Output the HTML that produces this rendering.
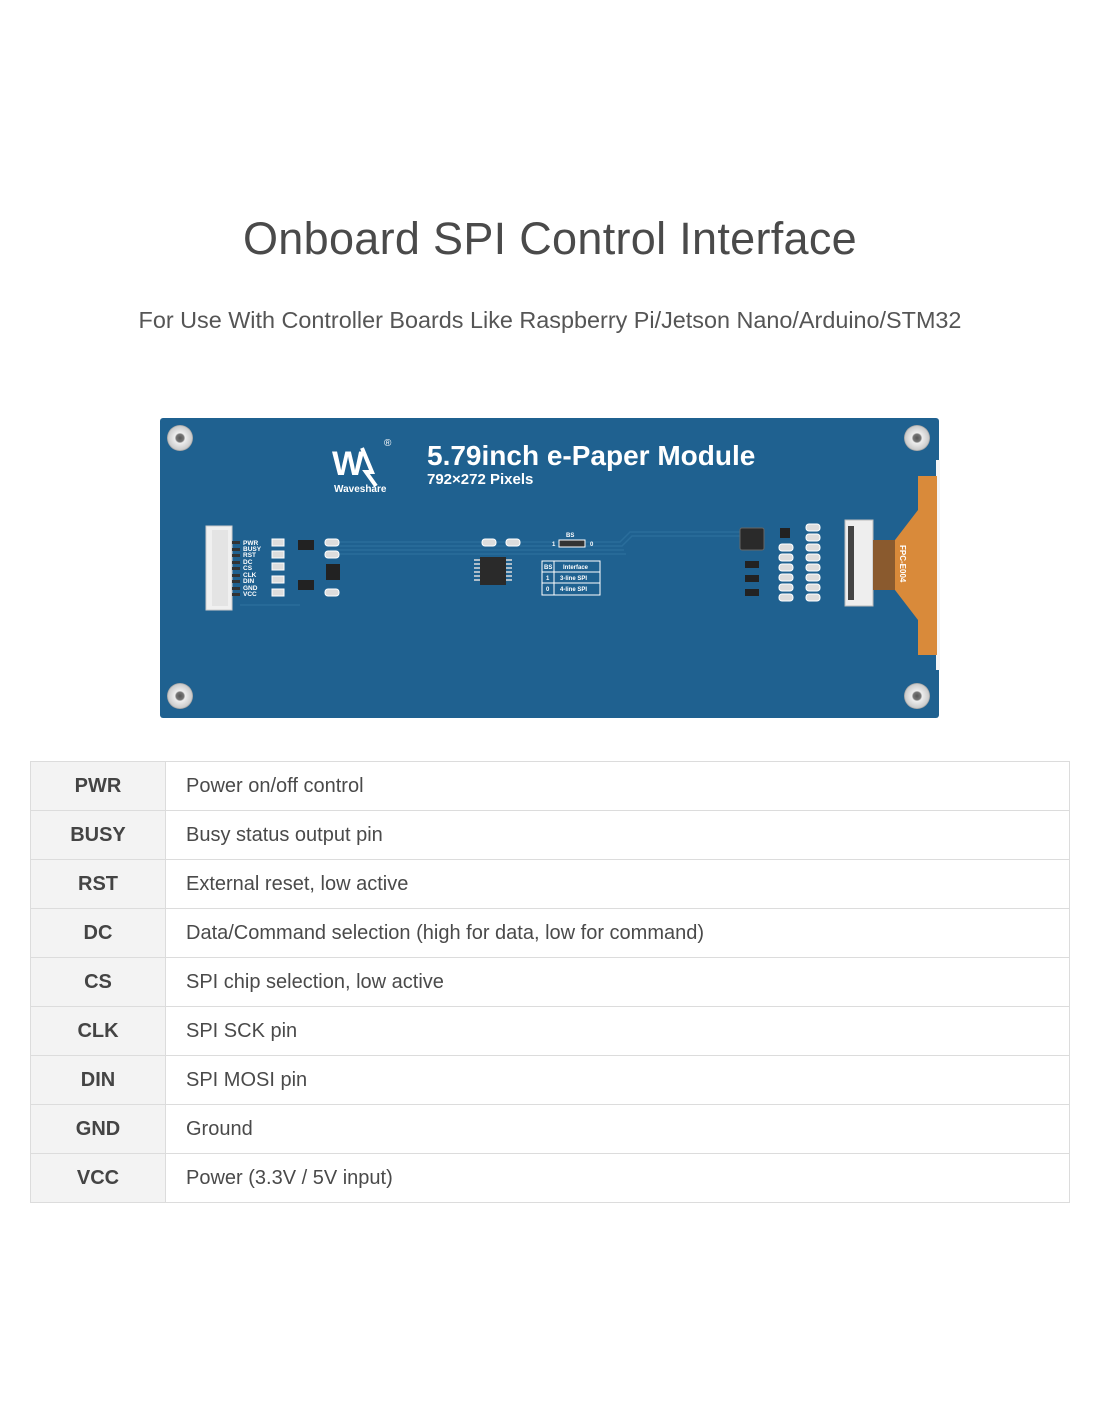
<!DOCTYPE html>
<html><head><meta charset="utf-8"><style>
html,body{margin:0;padding:0;background:#fff;}
body{width:1100px;height:1422px;position:relative;font-family:"Liberation Sans","DejaVu Sans",sans-serif;overflow:hidden;}
.t1{position:absolute;left:0;width:1100px;top:213px;text-align:center;font-size:45px;color:#4a4a4a;letter-spacing:0.3px;}
.t2{position:absolute;left:0;width:1100px;top:307px;text-align:center;font-size:23.4px;color:#555;}
table{position:absolute;left:30px;top:761px;width:1040px;border-collapse:collapse;}
td{border:1px solid #dcdcdc;height:48px;padding:0;font-size:20px;color:#4a4a4a;}
td.k{width:134px;background:#f3f3f3;text-align:center;font-weight:bold;color:#444;}
td.v{padding-left:20px;}
</style></head><body>
<div class="t1">Onboard SPI Control Interface</div>
<div class="t2">For Use With Controller Boards Like Raspberry Pi/Jetson Nano/Arduino/STM32</div>
<svg style="position:absolute;left:0;top:0" width="1100" height="760">
<defs><radialGradient id="h" cx="50%" cy="50%" r="50%"><stop offset="0" stop-color="#555"/><stop offset="0.3" stop-color="#777"/><stop offset="0.4" stop-color="#eee"/><stop offset="0.9" stop-color="#ccc"/><stop offset="1" stop-color="#999"/></radialGradient></defs>
<rect x="160" y="418" width="779" height="300" rx="3" fill="#1f6190"/>
<rect x="936" y="460" width="4" height="210" fill="#f4f4f4"/>
<circle cx="180" cy="438" r="13" fill="url(#h)"/><circle cx="917" cy="438" r="13" fill="url(#h)"/>
<circle cx="180" cy="696" r="13" fill="url(#h)"/><circle cx="917" cy="696" r="13" fill="url(#h)"/>
<text x="332" y="475" font-family="Liberation Sans" font-weight="bold" font-size="34" fill="#fff" letter-spacing="-3">W</text>
<path d="M362 448 L372 472 L366 472 L376 486" stroke="#fff" stroke-width="4" fill="none"/>
<text x="384" y="446" font-size="10" fill="#fff">®</text>
<text x="334" y="492" font-family="Liberation Sans" font-weight="bold" font-size="10" fill="#fff">Waveshare</text>
<text x="427" y="465" font-family="Liberation Sans" font-weight="bold" font-size="28" fill="#fff">5.79inch e-Paper Module</text>
<text x="427" y="484" font-family="Liberation Sans" font-weight="bold" font-size="15" fill="#fff">792×272 Pixels</text>
<g stroke="#2a6d9b" stroke-width="1.5" fill="none">
<path d="M330 542 H620 L630 532 H760"/><path d="M330 546 H622 L632 536 H760"/><path d="M330 550 H624"/><path d="M330 554 H626"/>
<path d="M240 605 H300"/>
</g>
<rect x="206" y="526" width="26" height="84" fill="#f0f0f0" stroke="#ccc"/>
<rect x="212" y="530" width="16" height="76" fill="#e4e4e4"/>
<g fill="#333"><rect x="232" y="541" width="8" height="3"/><rect x="232" y="548" width="8" height="3"/><rect x="232" y="554" width="8" height="3"/><rect x="232" y="561" width="8" height="3"/><rect x="232" y="567" width="8" height="3"/><rect x="232" y="574" width="8" height="3"/><rect x="232" y="580" width="8" height="3"/><rect x="232" y="587" width="8" height="3"/><rect x="232" y="593" width="8" height="3"/></g>
<g font-family="Liberation Sans" font-weight="bold" font-size="6.5" fill="#fff">
<text x="243" y="545">PWR</text><text x="243" y="551">BUSY</text><text x="243" y="557">RST</text><text x="243" y="564">DC</text><text x="243" y="570">CS</text><text x="243" y="577">CLK</text><text x="243" y="583">DIN</text><text x="243" y="590">GND</text><text x="243" y="596">VCC</text></g>
<g fill="#ddd" stroke="#fff" stroke-width="1"><rect x="272" y="539" width="12" height="7"/><rect x="272" y="551" width="12" height="7"/><rect x="272" y="563" width="12" height="7"/><rect x="272" y="576" width="12" height="7"/><rect x="272" y="589" width="12" height="7"/>
<rect x="325" y="539" width="14" height="7" rx="3"/><rect x="325" y="551" width="14" height="7" rx="3"/><rect x="325" y="589" width="14" height="7" rx="3"/></g>
<g fill="#222"><rect x="298" y="540" width="16" height="10"/><rect x="298" y="580" width="16" height="10"/><rect x="326" y="564" width="14" height="16"/></g>
<g fill="#ddd" stroke="#fff"><rect x="482" y="539" width="14" height="7" rx="3"/><rect x="506" y="539" width="14" height="7" rx="3"/></g>
<g stroke="#ddd" stroke-width="1.5"><path d="M474 560H512M474 564H512M474 568H512M474 572H512M474 576H512M474 580H512"/></g>
<rect x="480" y="557" width="26" height="28" fill="#2a2a2a"/>
<text x="566" y="537" font-family="Liberation Sans" font-weight="bold" font-size="6" fill="#fff">BS</text>
<text x="552" y="546" font-family="Liberation Sans" font-weight="bold" font-size="6" fill="#fff">1</text>
<rect x="559" y="540" width="26" height="7" fill="#333" stroke="#fff"/>
<text x="590" y="546" font-family="Liberation Sans" font-weight="bold" font-size="6" fill="#fff">0</text>
<g stroke="#fff" fill="none" stroke-width="1"><rect x="542" y="561" width="58" height="34"/><path d="M542 572H600M542 583H600M554 561V595"/></g>
<g font-family="Liberation Sans" font-weight="bold" font-size="6" fill="#fff"><text x="544" y="569">BS</text><text x="563" y="569">Interface</text><text x="546" y="580">1</text><text x="560" y="580">3-line SPI</text><text x="546" y="591">0</text><text x="560" y="591">4-line SPI</text></g>
<rect x="740" y="528" width="24" height="22" rx="2" fill="#2a2a2a" stroke="#666"/>
<g fill="#222"><rect x="745" y="561" width="14" height="7"/><rect x="745" y="575" width="14" height="7"/><rect x="745" y="589" width="14" height="7"/><rect x="780" y="528" width="10" height="10"/></g>
<g fill="#ddd" stroke="#fff"><rect x="779" y="544" width="14" height="7" rx="3"/><rect x="779" y="554" width="14" height="7" rx="3"/><rect x="779" y="564" width="14" height="7" rx="3"/><rect x="779" y="574" width="14" height="7" rx="3"/><rect x="779" y="584" width="14" height="7" rx="3"/><rect x="779" y="594" width="14" height="7" rx="3"/>
<rect x="806" y="524" width="14" height="7" rx="3"/><rect x="806" y="534" width="14" height="7" rx="3"/><rect x="806" y="544" width="14" height="7" rx="3"/><rect x="806" y="554" width="14" height="7" rx="3"/><rect x="806" y="564" width="14" height="7" rx="3"/><rect x="806" y="574" width="14" height="7" rx="3"/><rect x="806" y="584" width="14" height="7" rx="3"/><rect x="806" y="594" width="14" height="7" rx="3"/></g>
<rect x="845" y="520" width="28" height="86" fill="#eee" stroke="#bbb"/>
<rect x="848" y="526" width="6" height="74" fill="#444"/>
<path d="M873 540 H895 L918 510 V476 H937 V655 H918 V620 L895 590 H873 Z" fill="#d98a3a"/>
<path d="M873 540 H895 V590 H873 Z" fill="#8a5a2e"/>
<text transform="translate(900,545) rotate(90)" font-family="Liberation Sans" font-weight="bold" font-size="8" fill="#fff">FPC-E004</text>
</svg>
<table>
<tr><td class="k">PWR</td><td class="v">Power on/off control</td></tr>
<tr><td class="k">BUSY</td><td class="v">Busy status output pin</td></tr>
<tr><td class="k">RST</td><td class="v">External reset, low active</td></tr>
<tr><td class="k">DC</td><td class="v">Data/Command selection (high for data, low for command)</td></tr>
<tr><td class="k">CS</td><td class="v">SPI chip selection, low active</td></tr>
<tr><td class="k">CLK</td><td class="v">SPI SCK pin</td></tr>
<tr><td class="k">DIN</td><td class="v">SPI MOSI pin</td></tr>
<tr><td class="k">GND</td><td class="v">Ground</td></tr>
<tr><td class="k">VCC</td><td class="v">Power (3.3V / 5V input)</td></tr>
</table>
</body></html>
